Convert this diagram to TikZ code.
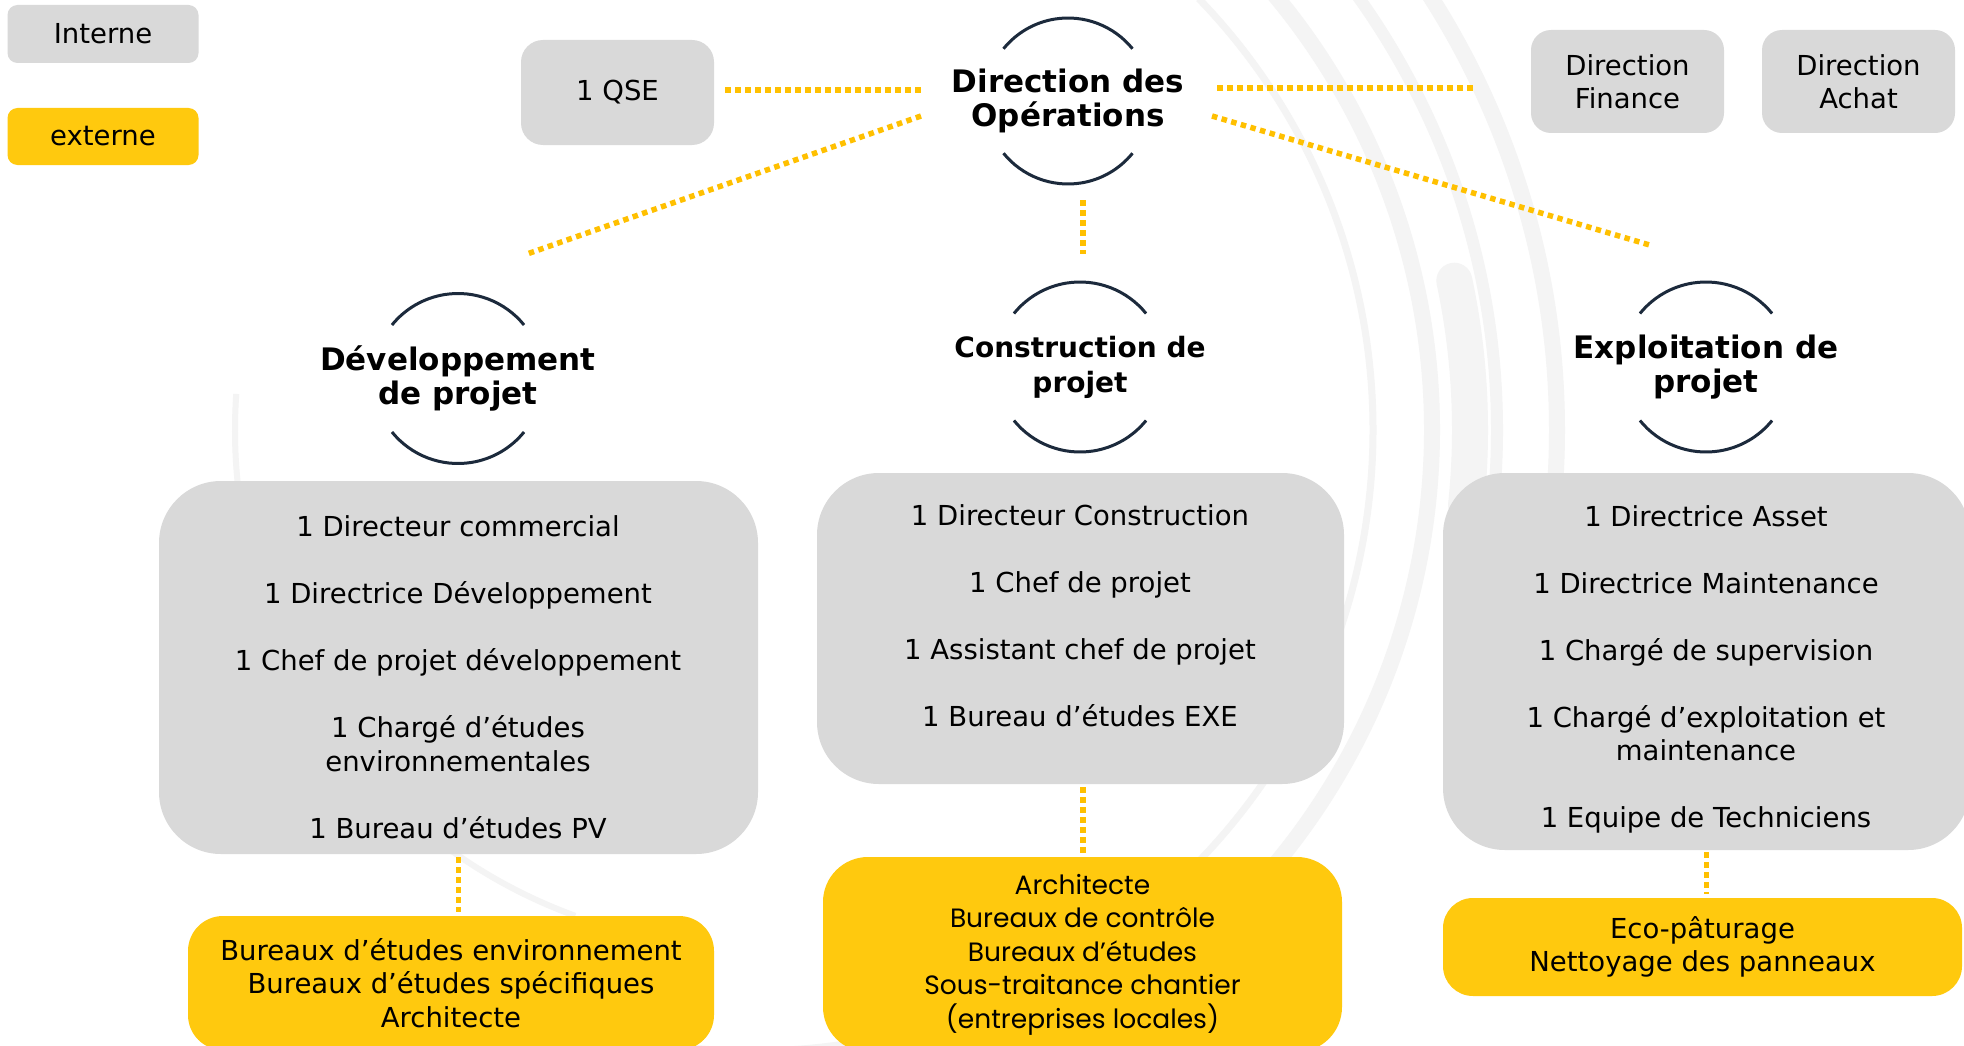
\documentclass[tikz,border=0pt]{standalone}
\usepackage{fontspec}
\setmainfont{DejaVu Sans}
\newfontfamily\gothicfont{Poppins}
\usepackage{xcolor}
\usetikzlibrary{positioning}

\definecolor{boxgray}{HTML}{D9D9D9}
\definecolor{boxyellow}{HTML}{FFC90E}
\definecolor{linkyellow}{HTML}{FFC000}
\definecolor{arcnavy}{HTML}{1C2A3C}
\definecolor{wmgray}{HTML}{F4F4F4}

\newcommand{\itemgap}{\\[33.5pt]}

\tikzset{
    txt/.style={font=\fontsize{27.5}{33.5}\selectfont, align=center, inner sep=0pt},
    hd/.style={font=\bfseries\fontsize{31}{34.5}\selectfont, align=center, inner sep=0pt},
    graybox/.style={fill=boxgray, rounded corners=#1, inner sep=0pt},
    graybox/.default=20pt,
    yellowbox/.style={fill=boxyellow, rounded corners=#1, inner sep=0pt},
    yellowbox/.default=35pt,
    link/.style={draw=linkyellow, line width=5.5pt, dash pattern=on 5.5pt off 4.5pt},
    hdarc/.style={draw=arcnavy, line width=3pt},
    wmarc/.style={draw=wmgray}
}

\begin{document}
\begin{tikzpicture}[x=1pt,y=1pt]
    \useasboundingbox (0,0) rectangle (1964,-1046);
    \fill[white] (0,0) rectangle (1964,-1046);

    % watermark arcs
    \coordinate (wm) at (752,-430);
    \draw[wmarc, line width=6pt] (wm) ++(176:517) arc[start angle=176, end angle=250, radius=517];
    \draw[wmarc, line width=7pt] (wm) ++(44:621) arc[start angle=44, end angle=-128, radius=621];
    \draw[wmarc, line width=16pt] (wm) ++(52:680) arc[start angle=52, end angle=-40, radius=680];
    \draw[wmarc, line width=12pt] (wm) ++(40:745) arc[start angle=40, end angle=-10, radius=745];
    \draw[wmarc, line width=16pt] (wm) ++(36:805) arc[start angle=36, end angle=-5, radius=805];
    \draw[wmarc, line width=36pt, line cap=round] (wm) ++(12:718) arc[start angle=12, end angle=-6, radius=718];

    % legend
    \node (interne) [graybox=10pt, txt, minimum width=191pt, minimum height=58pt] at (103,-34) {Interne};
    \node (externe) [yellowbox=10pt, txt, minimum width=191pt, minimum height=57pt] at (103,-136.5) {externe};

    % top row
    \node (qse) [graybox=22pt, txt, minimum width=193pt, minimum height=105pt] at (617.5,-92.5) {1 QSE};
    \node (ops) [hd] at (1068,-101) {Direction des\\Opérations};
    \node (fin) [graybox, txt, minimum width=193pt, minimum height=103pt] at (1627.5,-81.5) {Direction\\Finance};
    \node (ach) [graybox, txt, minimum width=193pt, minimum height=103pt] at (1858.5,-81.5) {Direction\\Achat};

    % poles
    \node (dev) [hd] at (458,-378.5) {Développement\\de projet};
    \node (con) [hd, font=\bfseries\fontsize{28}{35}\selectfont] at (1080,-367) {Construction de\\projet};
    \node (exp) [hd] at (1706,-367) {Exploitation de\\projet};

    \foreach \h/\r in {ops/83,dev/85,con/85,exp/85}{
        \draw[hdarc] (\h) ++(39:\r) arc[start angle=39, end angle=141, radius=\r];
        \draw[hdarc] (\h) ++(219:\r) arc[start angle=219, end angle=321, radius=\r];
    }

    % internal teams
    \node (devbox) [graybox=62pt, minimum width=599pt, minimum height=373pt] at (458.5,-667.5) {};
    \node (conbox) [graybox=62pt, minimum width=527pt, minimum height=311pt] at (1080.5,-628.5) {};
    \node (expbox) [graybox=62pt, minimum width=527pt, minimum height=377pt] at (1706.5,-661.5) {};

    \node (devlist) [txt] at (458,-677) {1 Directeur commercial\itemgap 1 Directrice Développement\itemgap 1 Chef de projet développement\itemgap 1 Chargé d’études\\environnementales\itemgap 1 Bureau d’études PV};
    \node (conlist) [txt] at (1080,-615.5) {1 Directeur Construction\itemgap 1 Chef de projet\itemgap 1 Assistant chef de projet\itemgap 1 Bureau d’études EXE};
    \node (explist) [txt] at (1706,-669.5) {1 Directrice Asset\itemgap 1 Directrice Maintenance\itemgap 1 Chargé de supervision\itemgap 1 Chargé d’exploitation et\\maintenance\itemgap 1 Equipe de Techniciens};

    % external partners
    \node (devext) [yellowbox, txt, minimum width=526pt, minimum height=134pt] at (451,-983) {Bureaux d’études environnement\\Bureaux d’études spécifiques\\Architecte};
    \node (conext) [yellowbox=45pt, txt, font=\gothicfont\fontsize{26.5}{33.5}\selectfont, minimum width=519pt, minimum height=195pt] at (1082.5,-954.5) {Architecte\\Bureaux de contrôle\\Bureaux d’études\\Sous-traitance chantier\\(entreprises locales)};
    \node (expext) [yellowbox=30pt, txt, minimum width=519pt, minimum height=98pt] at (1702.5,-947) {Eco-pâturage\\Nettoyage des panneaux};

    % dotted links
    \coordinate (opsW) at (921,-90);
    \coordinate (opsE) at (1217,-88);
    \coordinate (opsSW) at (921,-116);
    \coordinate (opsSE) at (1212,-116);
    \coordinate (opsS) at (1083,-200);
    \coordinate (devN) at (527,-254);
    \coordinate (conN) at (1083,-254);
    \coordinate (expN) at (1653,-246);

    \draw[link, shorten <=11pt] (qse.east |- opsW) -- (opsW);
    \draw[link, shorten >=58pt] (opsE) -- (opsE -| fin.west);
    \draw[link] (opsSW) -- (devN);
    \draw[link] (opsSE) -- (expN);
    \draw[link] (opsS) -- (conN);

    \draw[link, shorten <=3pt, shorten >=4pt] (devbox.south) -- (devbox.south |- devext.north);
    \draw[link, shorten <=3pt, shorten >=3pt] ([xshift=2.5pt]conbox.south) -- ([xshift=2.5pt]conbox.south |- conext.north);
    \draw[link, shorten <=2pt, shorten >=4pt] (expbox.south) -- (expbox.south |- expext.north);
\end{tikzpicture}
\end{document}
